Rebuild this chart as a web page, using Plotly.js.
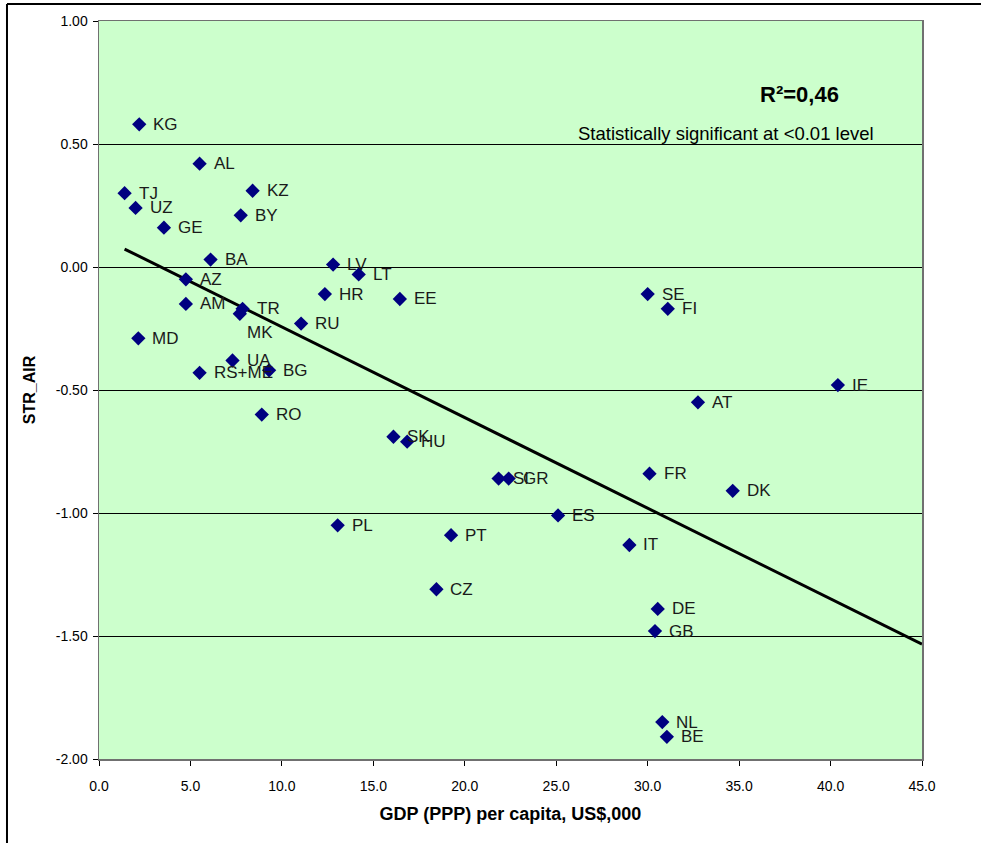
<!DOCTYPE html>
<html>
<head>
<meta charset="utf-8">
<script src="https://cdn.plot.ly/plotly-3.0.1.min.js"></script>
<style>
  html, body { margin: 0; padding: 0; background: #ffffff; }
  #chart { width: 981px; height: 843px; }
</style>
</head>
<body>
<div id="chart"></div>
<script>
// Country codes
var countries = ["KG","AL","TJ","UZ","GE","KZ","BY","BA","AZ","AM","TR","MK","RU","MD","UA","RS+ME","BG","RO",
                 "LV","LT","HR","EE","SK","HU","SI","GR","PL","PT","CZ","ES","IT","SE","FI","FR","AT","DK","IE",
                 "DE","GB","NL","BE"];
// GDP (PPP) per capita, US$,000
var gdp = [2.2, 5.5, 1.4, 2.0, 3.55, 8.4, 7.75, 6.1, 4.75, 4.75, 7.85, 7.7, 11.05, 2.15, 7.3, 5.5, 9.3, 8.9,
           12.8, 14.2, 12.35, 16.45, 16.1, 16.85, 21.85, 22.4, 13.05, 19.25, 18.45, 25.1, 29.0, 30.0, 31.1, 30.1, 32.75, 34.65, 40.4,
           30.55, 30.4, 30.8, 31.05];
// STR_AIR
var strAir = [0.58, 0.42, 0.30, 0.24, 0.16, 0.31, 0.21, 0.03, -0.05, -0.15, -0.17, -0.19, -0.23, -0.29, -0.38, -0.43, -0.42, -0.60,
              0.01, -0.03, -0.11, -0.13, -0.69, -0.71, -0.86, -0.86, -1.05, -1.09, -1.31, -1.01, -1.13, -0.11, -0.17, -0.84, -0.55, -0.91, -0.48,
              -1.39, -1.48, -1.85, -1.91];
// Linear trend line end points
var trendX = [1.4, 45.0];
var trendY = [0.073, -1.533];

var yTicks = [1.0, 0.5, 0.0, -0.5, -1.0, -1.5, -2.0];
var xTicks = [0, 5, 10, 15, 20, 25, 30, 35, 40, 45];

var fontMain = "'Liberation Sans', Arial, sans-serif";

var traces = [
  {
    x: trendX, y: trendY, mode: "lines", type: "scatter",
    line: { color: "#000000", width: 3 }, hoverinfo: "skip", showlegend: false
  },
  {
    x: gdp, y: strAir, mode: "markers", type: "scatter",
    marker: { symbol: "diamond", size: 11, color: "#000080" },
    showlegend: false, cliponaxis: false
  }
];

var labelAnns = countries.map(function (c, i) {
  var isMK = c === "MK";
  return {
    xref: "x", yref: "y", x: gdp[i], y: strAir[i], text: c, showarrow: false,
    xanchor: "left", yanchor: "middle",
    xshift: isMK ? 5 : 12, yshift: isMK ? -19 : 0,
    font: { family: fontMain, size: 17, color: "#1a1a1a" }
  };
});

var layout = {
  width: 981, height: 843,
  margin: { l: 99, r: 59, t: 21, b: 84 },
  paper_bgcolor: "#ffffff",
  plot_bgcolor: "#CCFFCC",
  showlegend: false,
  xaxis: {
    range: [0, 45], tickvals: xTicks, ticktext: xTicks.map(function (v) { return v.toFixed(1); }),
    ticks: "outside", ticklen: 5, tickcolor: "#000000", ticklabelstandoff: 9,
    showgrid: false, zeroline: false,
    showline: true, linecolor: "#707070", linewidth: 1.5, mirror: true,
    tickfont: { family: fontMain, size: 14, color: "#000000" },
    title: { text: "<b>GDP (PPP) per capita, US$,000</b>", font: { family: fontMain, size: 18, color: "#000000" }, standoff: 14 }
  },
  yaxis: {
    range: [-2, 1], tickvals: yTicks, ticktext: yTicks.map(function (v) { return v.toFixed(2); }),
    ticks: "outside", ticklen: 5, tickcolor: "#000000", ticklabelstandoff: 2,
    showgrid: true, gridcolor: "#000000", gridwidth: 1, zeroline: false,
    showline: true, linecolor: "#707070", linewidth: 1.5, mirror: true,
    tickfont: { family: fontMain, size: 14, color: "#000000" },
    title: { text: "<b>STR_AIR</b>", font: { family: fontMain, size: 16, color: "#000000" }, standoff: 16 }
  },
  annotations: [
    { xref: "paper", yref: "paper", x: (799 - 99) / 823, y: (759 - 94) / 738, xanchor: "center", yanchor: "middle",
      text: "<b>R²=0,46</b>", showarrow: false, font: { family: fontMain, size: 22, color: "#000000" } },
    { xref: "paper", yref: "paper", x: (726 - 99) / 823, y: (759 - 133) / 738, xanchor: "center", yanchor: "middle",
      text: "Statistically significant at <0.01 level", showarrow: false, font: { family: fontMain, size: 18.5, color: "#000000" } }
  ].concat(labelAnns),
  shapes: [
    { type: "line", xref: "paper", yref: "paper", x0: -0.1118, x1: -0.1118, y0: 1.023, y1: -0.2, line: { color: "#000000", width: 2 } },
    { type: "line", xref: "paper", yref: "paper", x0: -0.1118, x1: 1.2, y0: 1.023, y1: 1.023, line: { color: "#000000", width: 2 } }
  ]
};

Plotly.newPlot("chart", traces, layout, { displayModeBar: false, staticPlot: true });
</script>
</body>
</html>
